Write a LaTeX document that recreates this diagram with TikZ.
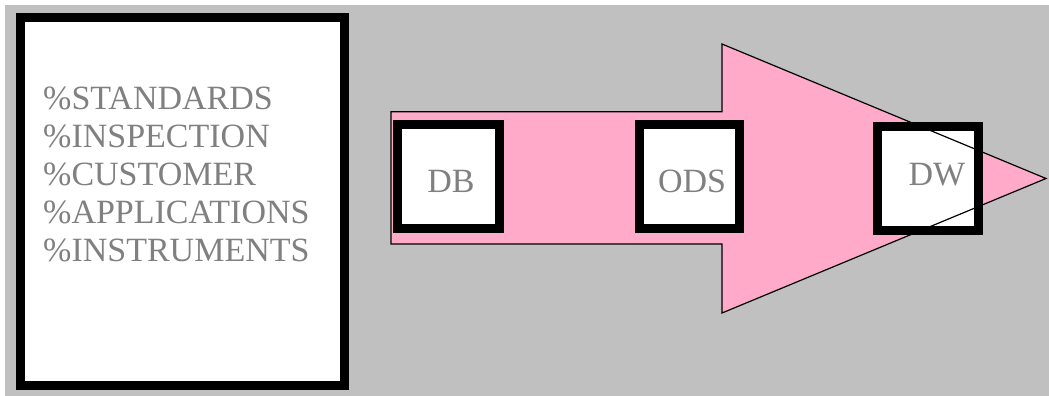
\documentclass[tikz,border=0pt]{standalone}
\usepackage{fontspec}
\setmainfont{Liberation Serif}
\definecolor{bggray}{RGB}{192,192,192}
\definecolor{arrowpink}{RGB}{255,170,200}
\definecolor{txtgray}{RGB}{128,128,128}
\tikzset{
  thickbox/.style={draw=black, line width=9pt, fill=white, inner sep=0pt},
  boxlabel/.style={anchor=base, inner sep=0pt, text=txtgray, font=\fontsize{34}{38}\selectfont},
}
\begin{document}
\begin{tikzpicture}[x=1pt,y=-1pt]
\useasboundingbox (0,0) rectangle (1049,396);
\fill[white] (0,0) rectangle (1049,396);
\fill[bggray] (5,5) rectangle (1049,396);
% left panel
\node[thickbox, minimum width=324pt, minimum height=368pt] (panel) at (182.5,201.5) {};
\node[anchor=north west, inner sep=0pt, align=left, text=txtgray,
      font=\fontsize{34}{38}\selectfont] (list) at (43,86.5)
  {\%STANDARDS\\ \%INSPECTION\\ \%CUSTOMER\\ \%APPLICATIONS\\ \%INSTRUMENTS};
% arrow fill
\coordinate (a1) at (391,111.7);
\coordinate (a2) at (722,111.7);
\coordinate (a3) at (722,44);
\coordinate (tip) at (1046,178.5);
\coordinate (a5) at (722,313);
\coordinate (a6) at (722,244);
\coordinate (a7) at (391,244);
\fill[arrowpink] (a1) -- (a2) -- (a3) -- (tip) -- (a5) -- (a6) -- (a7) -- cycle;
% boxes
\node[thickbox, minimum width=102pt, minimum height=104pt] (db) at (448.5,176.5) {};
\node[thickbox, minimum width=100pt, minimum height=104pt] (ods) at (689.5,176.5) {};
\node[thickbox, minimum width=101pt, minimum height=104pt] (dw) at (928,178.5) {};
% arrow outline over boxes
\draw[black, line width=1.2pt, line join=miter] (a1) -- (a2) -- (a3) -- (tip) -- (a5) -- (a6) -- (a7) -- cycle;
% labels
\node[boxlabel] (dbt) at (451,192) {DB};
\node[boxlabel] (odst) at (692,192) {ODS};
\node[boxlabel] (dwt) at (937,185) {DW};
\end{tikzpicture}
\end{document}
